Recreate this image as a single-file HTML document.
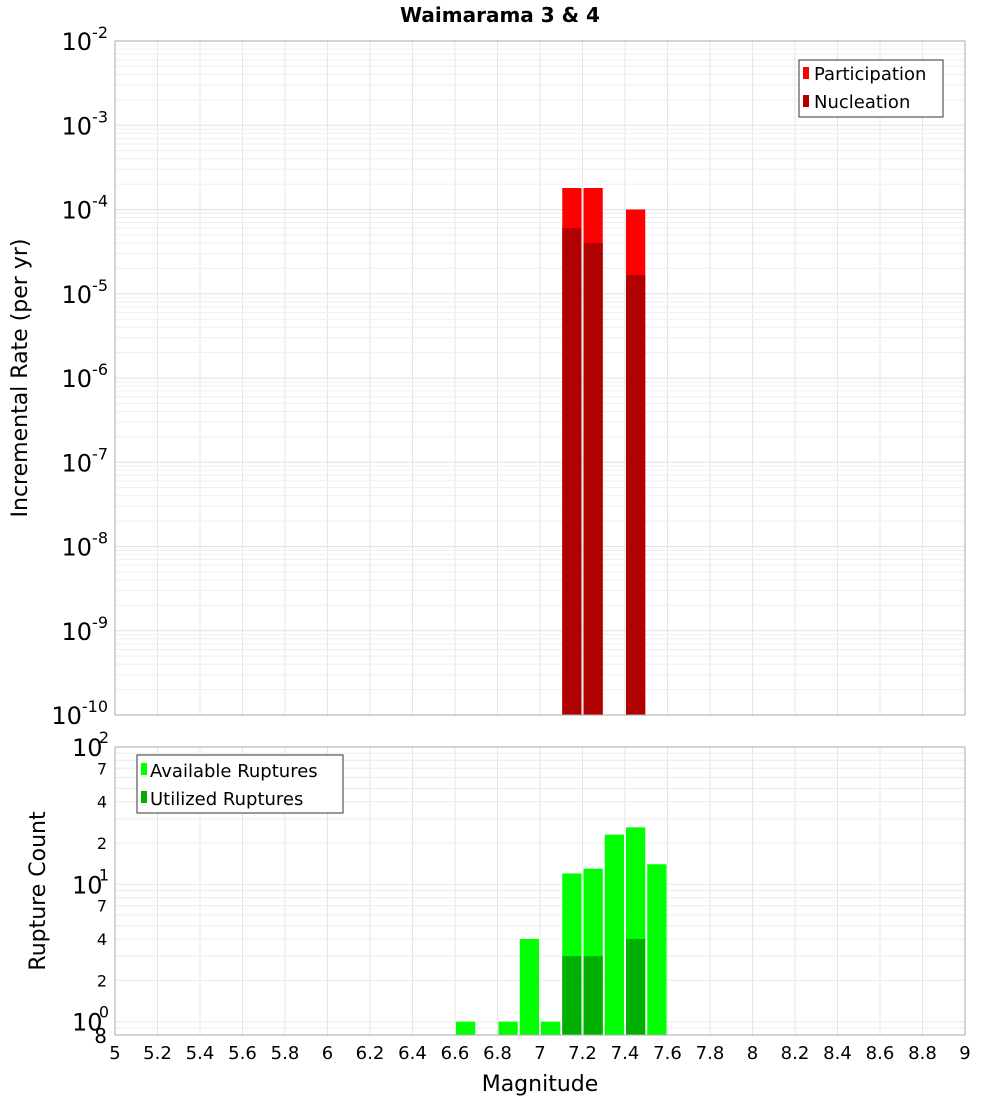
<!DOCTYPE html>
<html><head><meta charset="utf-8"><style>
body{margin:0;background:#fff;font-family:"Liberation Sans","DejaVu Sans",sans-serif}
svg text{font-family:"DejaVu Sans","Liberation Sans",sans-serif}
</style></head><body>
<svg id="c" width="1000" height="1100" xmlns="http://www.w3.org/2000/svg">
<text x="500" y="22" text-anchor="middle" font-size="20" font-weight="bold">Waimarama 3 &amp; 4</text>
<g id="grid"></g><g id="bars"></g><g id="axes"></g>
<text transform="translate(27,378) rotate(-90)" text-anchor="middle" font-size="22">Incremental Rate (per yr)</text>
<text transform="translate(45,891) rotate(-90)" text-anchor="middle" font-size="22">Rupture Count</text>
<text x="540" y="1091" text-anchor="middle" font-size="22">Magnitude</text>
<g>
<rect x="799" y="60" width="144" height="57" fill="#fff" stroke="#333"/>
<rect x="803" y="67" width="6" height="12" fill="#ff0000"/><text x="814" y="80" font-size="18">Participation</text>
<rect x="803" y="95" width="6" height="12" fill="#b00000"/><text x="814" y="108" font-size="18">Nucleation</text>
</g>
<g>
<rect x="137" y="755" width="206" height="58" fill="#fff" stroke="#333"/>
<rect x="141" y="763" width="6" height="12" fill="#00ff00"/><text x="150" y="777" font-size="18">Available Ruptures</text>
<rect x="141" y="791" width="6" height="12" fill="#00b000"/><text x="150" y="805" font-size="18">Utilized Ruptures</text>
</g>
</svg>
<script>
const rateMags=[7.15,7.25,7.45];
const participation=[1.8e-4,1.8e-4,1.0e-4];
const nucleation=[6.0e-5,4.0e-5,1.67e-5];
const countMags=[6.65,6.85,6.95,7.05,7.15,7.25,7.35,7.45,7.55];
const available=[1,1,4,1,12,13,23,26,14];
const utilMags=[7.15,7.25,7.45];
const utilized=[3,3,4];
const xTicks=[5,5.2,5.4,5.6,5.8,6,6.2,6.4,6.6,6.8,7,7.2,7.4,7.6,7.8,8,8.2,8.4,8.6,8.8,9];
const topExps=[-10,-9,-8,-7,-6,-5,-4,-3,-2];
const botTicks=[[100,'2','10'],[70,'7'],[40,'4'],[20,'2'],[10,'1','10'],[7,'7'],[4,'4'],[2,'2'],[1,'0','10'],[0.8,'8']];

const NS='http://www.w3.org/2000/svg';
const X0=115,X1=965,T0=41,T1=715,B0=747,B1=1035;
const x=m=>X0+(m-5)/4*(X1-X0);
const yT=v=>T1-(Math.log10(v)+10)/8*(T1-T0);
const lb=Math.log10(0.8),lt=2;
const yB=v=>B1-(Math.log10(v)-lb)/(lt-lb)*(B1-B0);
function el(p,t,a,txt){const e=document.createElementNS(NS,t);for(const k in a)e.setAttribute(k,a[k]);if(txt!==undefined)e.textContent=txt;document.getElementById(p).appendChild(e);return e;}
// grid
for(const m of xTicks){for(const [a,b] of [[T0,T1],[B0,B1]]){const l=el('grid','line',{x1:x(m),x2:x(m),y1:a,y2:b,stroke:'#e6e6e6'});

}}
for(let e=-10;e<-2;e++)for(let k=1;k<10;k++){const y=yT(k*Math.pow(10,e));const l=el('grid','line',{x1:X0,x2:X1,y1:y,y2:y,stroke:k==1?'#e0e0e0':'#efefef'});

}
for(let e=-1;e<2;e++)for(let k=1;k<10;k++){const v=k*Math.pow(10,e);if(v<0.8)continue;const y=yB(v);const l=el('grid','line',{x1:X0,x2:X1,y1:y,y2:y,stroke:'#ececec'});

}
// bars
const bw=(X1-X0)/40;
function bar(m,v,yf,base,col,name){const y=yf(v);const r=el('bars','rect',{x:x(m)-bw/2+1,y:y,width:bw-2,height:base-y,fill:col});

}
rateMags.forEach((m,i)=>bar(m,participation[i],yT,T1,'#ff0000','participation-bar'));
rateMags.forEach((m,i)=>bar(m,nucleation[i],yT,T1,'#b00000','nucleation-bar'));
countMags.forEach((m,i)=>bar(m,available[i],yB,B1,'#00ff00','available-bar'));
utilMags.forEach((m,i)=>bar(m,utilized[i],yB,B1,'#00b000','utilized-bar'));
// frames
for(const [a,b] of [[T0,T1],[B0,B1]]){const r=el('axes','rect',{x:X0,y:a,width:X1-X0,height:b-a,fill:'none',stroke:'#aaa'});

}
// x tick labels
for(const m of xTicks){const t=el('axes','text',{x:x(m),y:1059,'text-anchor':'middle','font-size':18},String(m));

}
// top y labels
for(const e of topExps){const y=yT(Math.pow(10,e));const g=el('axes','text',{x:108,y:y+9,'text-anchor':'end','font-size':24},'');


const b=document.createElementNS(NS,'tspan');b.textContent='10';g.appendChild(b);
const s=document.createElementNS(NS,'tspan');s.setAttribute('dy','-12');s.setAttribute('font-size','16');s.textContent=String(e);g.appendChild(s);
g.setAttribute('x',String(108));}
// bottom y labels
for(const t of botTicks){const y=yB(t[0]);
if(t[2]){const g=el('axes','text',{x:72,y:y+9,'font-size':24},'10');


const s=el('axes','text',{x:104,y:y-4,'font-size':16,'text-anchor':'middle'},t[1]);

}
else{const g=el('axes','text',{x:107,y:y+6,'text-anchor':'end','font-size':16},t[1]);
if(t[0]<1){g.setAttribute('font-size','20');g.setAttribute('y',String(y+8));}

}}
</script>
</body></html>
